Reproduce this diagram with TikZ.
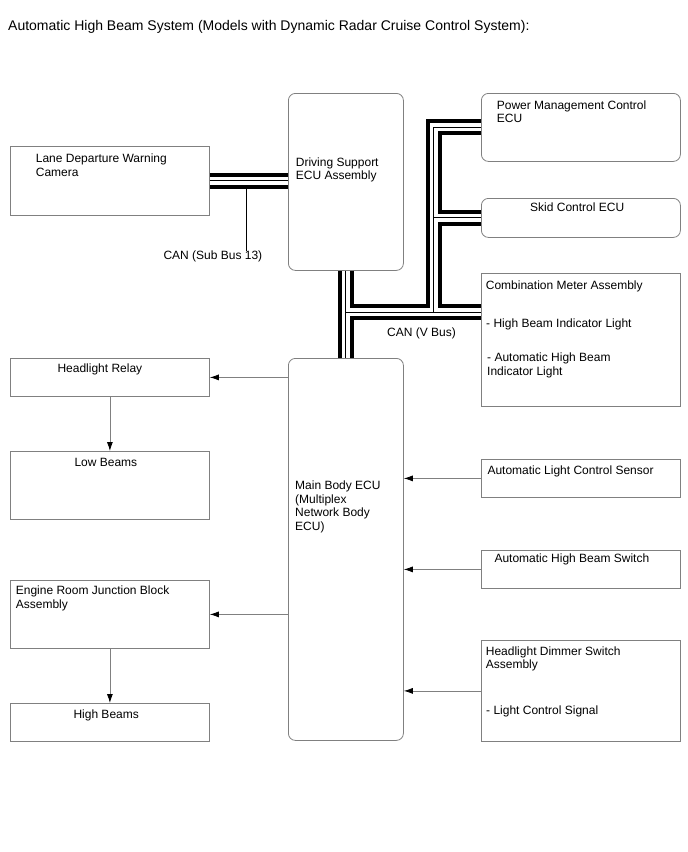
\documentclass[tikz,border=0pt]{standalone}
\usepackage{fontspec}
\setmainfont{Liberation Sans}
\usetikzlibrary{arrows.meta}

\begin{document}
\begin{tikzpicture}[x=1pt, y=-1pt, >={Latex[length=9pt, width=6pt, color=black]},
    box/.style={draw=black!50, line width=0.8pt, rectangle, anchor=north west, inner sep=0pt},
    ecu/.style={box, rounded corners=7pt},
    lbl/.style={anchor=base west, inner sep=0pt, align=left, font=\fontsize{12}{13.5}\selectfont},
    sig/.style={->, draw=black!50, line width=0.8pt}]
    \fill[white] (0,0) rectangle (688,852);
    \useasboundingbox (0,0) rectangle (688,852);

    \node[lbl, font=\fontsize{14}{16}\selectfont] (title) at (8,30) {Automatic High Beam System (Models with Dynamic Radar Cruise Control System):};

    \node[box, minimum width=199pt, minimum height=69pt] (lane_camera) at (10,146) {};
    \node[ecu, minimum width=115pt, minimum height=177pt] (drive_support) at (288,93) {};
    \node[ecu, minimum width=199pt, minimum height=68pt] (pm_ecu) at (481,93) {};
    \node[ecu, minimum width=199pt, minimum height=39pt] (skid_ecu) at (481,198) {};
    \node[box, minimum width=199pt, minimum height=133pt] (comb_meter) at (481,273) {};
    \node[box, minimum width=199pt, minimum height=38pt] (headlight_relay) at (10,358) {};
    \node[box, minimum width=199pt, minimum height=68pt] (low_beams) at (10,451) {};
    \node[box, minimum width=199pt, minimum height=68pt] (engine_room) at (10,580) {};
    \node[box, minimum width=199pt, minimum height=38pt] (high_beams) at (10,703) {};
    \node[ecu, minimum width=115pt, minimum height=382pt] (main_body) at (288,358) {};
    \node[box, minimum width=199pt, minimum height=38pt] (light_sensor) at (481,459) {};
    \node[box, minimum width=199pt, minimum height=38pt] (beam_switch) at (481,550) {};
    \node[box, minimum width=199pt, minimum height=101pt] (dimmer_switch) at (481,640) {};

    \node[lbl] at (35.7,176.3) {Lane Departure Warning\\Camera};
    \node[lbl] at (295.7,179.5) {Driving Support\\ECU Assembly};
    \node[lbl] at (496.7,122.5) {Power Management Control\\ECU};
    \node[lbl] at (530,211.5) {Skid Control ECU};
    \node[lbl] at (485.7,289.6) {Combination Meter Assembly};
    \node[lbl] at (486,327.6) {- High Beam Indicator Light};
    \node[lbl] at (487,375) {- Automatic High Beam\\Indicator Light};
    \node[lbl] (v_label) at (387,336) {CAN (V Bus)};
    \node[lbl] (sub_label) at (163.3,259.5) {CAN (Sub Bus 13)};
    \node[lbl] at (57.3,372.3) {Headlight Relay};
    \node[lbl] at (74.3,466.8) {Low Beams};
    \node[lbl] at (15.7,608) {Engine Room Junction Block\\Assembly};
    \node[lbl] at (73.3,718.6) {High Beams};
    \node[lbl] at (295,530) {Main Body ECU\\(Multiplex\\Network Body\\ECU)};
    \node[lbl] at (487.3,474) {Automatic Light Control Sensor};
    \node[lbl] at (494.3,562.6) {Automatic High Beam Switch};
    \node[lbl] at (485.7,668.9) {Headlight Dimmer Switch\\Assembly};
    \node[lbl] at (486,714.5) {- Light Control Signal};

    \coordinate (sub_tap) at (246.7,182);
    \coordinate (v_tee) at (drive_support.south |- 0,312);
    \coordinate (r_tee) at (433.5,312);

    \draw[line width=0.8pt] (sub_tap) -- (sub_tap |- sub_label.north);

    \foreach \wd/\col in {16/black, 8/white, 1/black}{
        \draw[line width=\wd pt, draw=\col] (lane_camera.east) -- (lane_camera.east -| drive_support.west);
        \draw[line width=\wd pt, draw=\col] (drive_support.south) -- (main_body.north);
        \draw[line width=\wd pt, draw=\col] (v_tee) -- (v_tee -| comb_meter.west);
        \draw[line width=\wd pt, draw=\col] (pm_ecu.west) -| (r_tee);
        \draw[line width=\wd pt, draw=\col] (r_tee |- skid_ecu.west) -- (skid_ecu.west);
    }

    \draw[sig] (main_body.west |- headlight_relay.east) -- (headlight_relay.east);
    \draw[sig] (main_body.west |- engine_room.east) -- (engine_room.east);
    \draw[sig] (headlight_relay.south) -- (low_beams.north);
    \draw[sig] (engine_room.south) -- (high_beams.north);
    \draw[sig] (light_sensor.west) -- (light_sensor.west -| main_body.east);
    \draw[sig] (beam_switch.west) -- (beam_switch.west -| main_body.east);
    \draw[sig] (dimmer_switch.west) -- (dimmer_switch.west -| main_body.east);
\end{tikzpicture}
\end{document}
